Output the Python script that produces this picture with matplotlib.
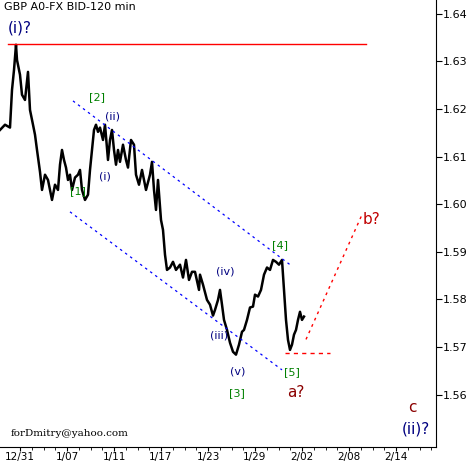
import matplotlib
matplotlib.use("Agg")
import matplotlib.pyplot as plt

bar_x = [0,5,10,12,14,16,17,20,22,25,28,30,33,35,37,40,42,45,48,52,55,58,60,62,64,66,68,70,72,75,78,80,82,85,88,90,92,94,96,98,100,103,105,108,110,112,114,116,118,120,123,126,128,131,134,136,139,142,146,150,152,154,156,158,161,163,165,167,170,173,176,180,183,186,189,192,195,199,200,203,207,210,213,215,218,220,222,224,227,230,233,236,239,242,244,247,250,253,255,258,261,264,267,270,273,276,279,282,284,286,288,290,292,294,296,298,300,302,304]
price = [1.6156,1.6167,1.6161,1.6240,1.6282,1.6335,1.6303,1.6272,1.6230,1.6219,1.6278,1.6198,1.6167,1.6146,1.6114,1.6068,1.6030,1.6062,1.6051,1.6009,1.6041,1.6030,1.6083,1.6114,1.6093,1.6077,1.6051,1.6062,1.6030,1.6056,1.6062,1.6072,1.6030,1.6009,1.6020,1.6072,1.6114,1.6156,1.6167,1.6152,1.6161,1.6135,1.6167,1.6093,1.6135,1.6156,1.6114,1.6083,1.6114,1.6089,1.6125,1.6093,1.6077,1.6135,1.6125,1.6062,1.6041,1.6072,1.6030,1.6062,1.6089,1.6030,1.5988,1.6051,1.5967,1.5946,1.5894,1.5862,1.5867,1.5879,1.5862,1.5873,1.5846,1.5883,1.5841,1.5858,1.5858,1.5820,1.5852,1.5831,1.5799,1.5789,1.5766,1.5778,1.5799,1.5820,1.5789,1.5757,1.5736,1.5709,1.5690,1.5684,1.5705,1.5732,1.5736,1.5757,1.5783,1.5785,1.5810,1.5806,1.5820,1.5852,1.5867,1.5862,1.5883,1.5879,1.5873,1.5883,1.5820,1.5757,1.5715,1.5694,1.5705,1.5726,1.5736,1.5757,1.5774,1.5757,1.5764]

date_labels = ["12/31","1/07","1/11","1/17","1/23","1/29","2/02","2/08","2/14"]
date_pos = [20,67,114,161,208,255,302,349,396]
y_ticks = [1.56,1.57,1.58,1.59,1.60,1.61,1.62,1.63,1.64]

top_line = ([8,366],[1.6337,1.6337])
upper_ch = ([73,290],[1.6217,1.5873])
lower_ch = ([70,282],[1.5984,1.5652])
flat_line = ([285,330],[1.5688,1.5688])
proj_line = ([306,362],[1.5716,1.5978])

labels = [("(i)?",20,1.6371,"navy",11),("[2]",97,1.6224,"green",8),("(ii)",113,1.6184,"navy",8),
          ("(i)",105,1.6058,"navy",8),("[1]",78,1.6028,"green",8),("[4]",280,1.5915,"green",8),
          ("(iv)",225,1.5858,"navy",8),("(iii)",219,1.5724,"navy",8),("(v)",238,1.5648,"navy",8),
          ("[3]",237,1.5604,"green",8),("[5]",292,1.5648,"green",8),("a?",296,1.5604,"darkred",11),
          ("b?",372,1.5967,"#c00000",11),("c",412,1.5573,"darkred",11),("(ii)?",416,1.5527,"navy",11)]

fig = plt.figure(figsize=(4.67,4.62), dpi=100)
ax = fig.add_axes([0, 15/462, 436/467, 447/462])
ax.plot(bar_x, price, color="black", lw=1.8)
ax.plot(*top_line, color="red", lw=1)
ax.plot(*upper_ch, color="blue", lw=0.9, ls=(0,(2,3)))
ax.plot(*lower_ch, color="blue", lw=0.9, ls=(0,(2,3)))
ax.plot(*flat_line, color="red", lw=1, ls=(0,(3,3)))
ax.plot(*proj_line, color="red", lw=1, ls=(0,(2,3)))
for t,x,y,c,s in labels:
    ax.text(x,y,t,color=c,fontsize=s,ha="center",va="center")
ax.text(0.01,0.995,"GBP A0-FX BID-120 min",transform=ax.transAxes,fontsize=8,va="top",ha="left")
ax.text(0.025,0.03,"forDmitry@yahoo.com",transform=ax.transAxes,fontsize=7.5,family="DejaVu Serif",va="center")
ax.set_xlim(0,436)
ax.set_ylim(1.5490,1.6429)
ax.yaxis.tick_right()
ax.set_yticks(y_ticks)
ax.set_yticklabels([f"{v:.2f}" for v in y_ticks])
ax.set_xticks(date_pos)
ax.set_xticklabels(date_labels)
ax.set_xticks([20+i*47/4 for i in range(36)], minor=True)
ax.tick_params(axis="y", labelsize=8, length=4, direction="out", pad=1)
ax.tick_params(axis="x", labelsize=7.5, length=3, direction="out", pad=0.5)
ax.tick_params(which="minor", length=2)
for s in ["top","left"]:
    ax.spines[s].set_visible(False)
fig.savefig("out.png", dpi=100)
